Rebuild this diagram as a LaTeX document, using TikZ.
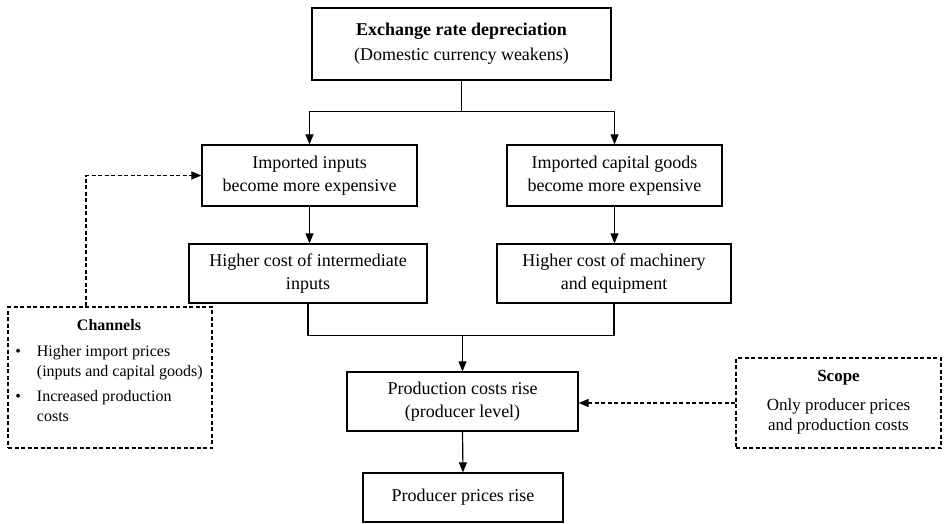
\documentclass[tikz,border=0pt]{standalone}
\usepackage{fontspec}
\setmainfont{Liberation Serif}
\usetikzlibrary{arrows.meta,calc}
\begin{document}
\begin{tikzpicture}[x=1pt,y=-1pt,
  box/.style={draw, line width=1.3pt, align=center, inner sep=0pt, font=\fontsize{18}{23}\selectfont},
  note/.style={draw, line width=1.2pt, dash pattern=on 4pt off 2.5pt, inner sep=0pt},
  arr/.style={-{Triangle[length=10pt,width=8pt]}},
  link/.style={line width=1.2pt},
  dlink/.style={line width=1.2pt, dash pattern=on 4pt off 2.5pt}]
\useasboundingbox[fill=white] (0,0) rectangle (944,524);

\node[box, minimum width=299pt, minimum height=72pt, font=\fontsize{18}{25}\selectfont] (top) at (461.5,44)
  {{\bfseries Exchange rate depreciation}\\(Domestic currency weakens)};
\node[box, minimum width=215pt, minimum height=61pt] (a1) at (309.5,175.5)
  {Imported inputs\\become more expensive};
\node[box, minimum width=215pt, minimum height=61pt] (b1) at (614.5,175.5)
  {Imported capital goods\\become more expensive};
\node[box, minimum width=238pt, minimum height=59pt] (a2) at (308,273.5)
  {Higher cost of intermediate\\inputs};
\node[box, minimum width=234pt, minimum height=59pt] (b2) at (614,273.5)
  {Higher cost of machinery\\and equipment};
\node[box, minimum width=231pt, minimum height=59pt] (c) at (462.5,401.5)
  {Production costs rise\\(producer level)};
\node[box, minimum width=200pt, minimum height=49pt] (d) at (463,497.5)
  {Producer prices rise};

\node[note, minimum width=204pt, minimum height=141pt] (ch) at (110,377.5) {};
\node[font=\fontsize{16}{20}\selectfont, inner sep=0pt] (chtext) at (109,372)
  {\begin{tabular}{@{}c@{\hspace{16pt}}l@{}}
   \multicolumn{2}{c}{\bfseries Channels}\\[6pt]
   \textbullet & Higher import prices\\
               & (inputs and capital goods)\\[5pt]
   \textbullet & Increased production\\
               & costs
   \end{tabular}};

\node[note, minimum width=205pt, minimum height=90pt] (sc) at (838.5,403) {};
\node[font=\fontsize{17}{20}\selectfont, align=center, inner sep=0pt] (sctext) at (838.5,402)
  {{\bfseries Scope}\\[9pt]Only producer prices\\and production costs};

% connectors
\draw[link] (top.south) -- ++(0,31) coordinate (split);
\draw[link, arr] (split) -| (a1.north);
\draw[link, arr] (split) -| (b1.north);
\draw[link, arr] (a1.south) -- (a1.south |- a2.north);
\draw[link, arr] (b1.south) -- (b1.south |- b2.north);
\coordinate (join) at ($(c.north)+(0,-36)$);
\draw[link] (a2.south) |- (join) -| (b2.south);
\draw[link, arr] (join) -- (c.north);
\draw[link, arr] (c.south) -- (d.north);

\draw[dlink, arr] ([xshift=-24pt]ch.north) |- (a1.west);
\draw[dlink, arr] (sc.west) -- (sc.west -| c.east);
\end{tikzpicture}
\end{document}
